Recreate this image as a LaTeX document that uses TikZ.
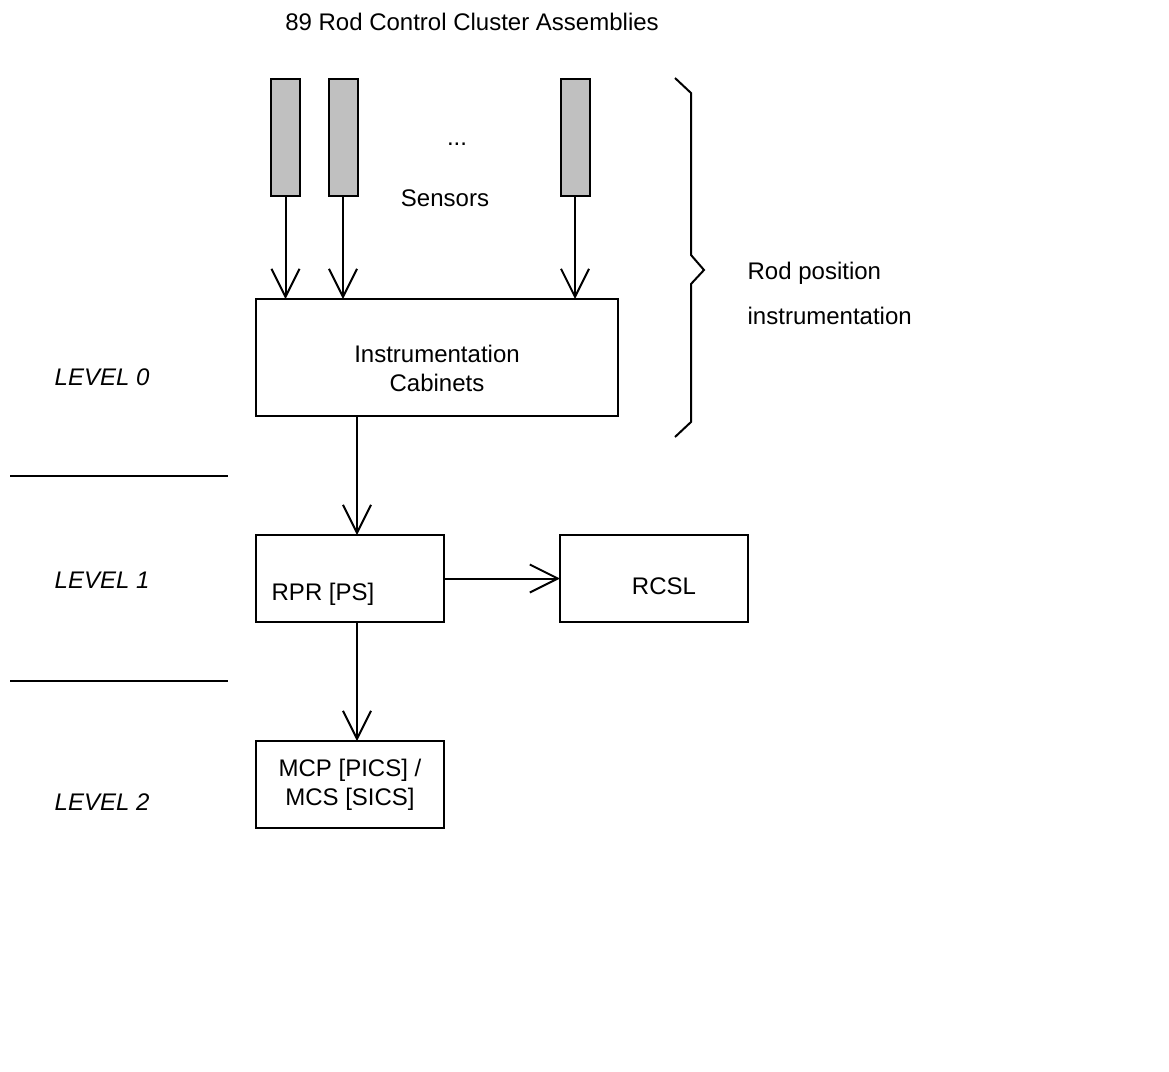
\documentclass[tikz,border=0pt]{standalone}
\usepackage{fontspec}
\setmainfont{Liberation Sans}
\usetikzlibrary{arrows.meta,positioning}
\definecolor{sensorgray}{RGB}{192,192,192}

\begin{document}
\begin{tikzpicture}[x=0.5pt,y=-0.5pt,line width=1pt,
  font=\fontsize{12}{14.5}\selectfont,
  >={Straight Barb[length=14pt,width=14pt]},
  box/.style={draw,inner sep=0pt,outer sep=0pt,align=center},
  sensor/.style={draw,fill=sensorgray,inner sep=0pt,outer sep=0pt,
    minimum width=14.5pt,minimum height=58.5pt},
  level/.style={anchor=west,font=\fontsize{12}{14.5}\selectfont\itshape}]
\useasboundingbox (0,0) rectangle (1169,1072);

\node (title) at (472,22) {89 Rod Control Cluster Assemblies};

\node[sensor] (s1) at (285.5,137) {};
\node[sensor] (s2) at (343,137) {};
\node[sensor] (s3) at (575,137) {};
\node (dots) at (457,144) {...};
\node (sens) at (445,198) {Sensors};

\node[box,minimum width=181pt,minimum height=58.5pt] (cab) at (437,357.5) {};
\node[align=center] (cabtext) at (437,368) {Instrumentation\\Cabinets};
\node[box,minimum width=94pt,minimum height=43.5pt] (rpr) at (350,578.5) {};
\node[anchor=west] (rprtext) at (264,594) {RPR [PS]};
\node[box,minimum width=94pt,minimum height=43.5pt] (rcsl) at (654,578.5) {};
\node (rcsltext) at (664,586) {RCSL};
\node[box,minimum width=94pt,minimum height=43.5pt] (mcp) at (350,784.5)
  {MCP [PICS] /\\MCS [SICS]};

\node[level] (lvl0) at (47,377) {LEVEL 0};
\node[level] (lvl1) at (47,580) {LEVEL 1};
\node[level] (lvl2) at (47,802) {LEVEL 2};

\node[anchor=west,align=left,font=\fontsize{12}{22.5}\selectfont] (rpi) at (740,293.5)
  {Rod position\\instrumentation};

\coordinate (ax) at (357,0);

\draw[->] (s1) -- (s1 |- cab.north);
\draw[->] (s2) -- (s2 |- cab.north);
\draw[->] (s3) -- (s3 |- cab.north);
\draw[->] (ax |- cab.south) -- (ax |- rpr.north);
\draw[->] (rpr) -- (rcsl);
\draw[->] (ax |- rpr.south) -- (ax |- mcp.north);

\draw (675,78) -- (691,93) -- (691,255) -- (704,270) -- (691,284) -- (691,422) -- (675,437);

\draw (10,476) -- (228,476);
\draw (10,681) -- (228,681);
\end{tikzpicture}
\end{document}
